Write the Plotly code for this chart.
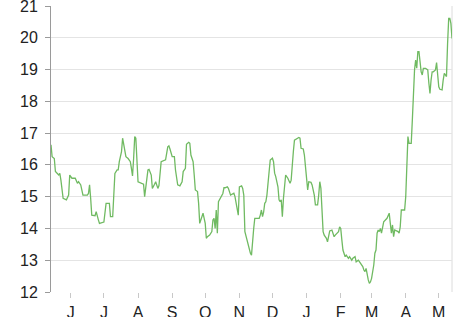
import plotly.graph_objects as go

dates = [
    "2018-05-14", "2018-05-15", "2018-05-17", "2018-05-18", "2018-05-21", "2018-05-22",
    "2018-05-23", "2018-05-24", "2018-05-25", "2018-05-28", "2018-05-30", "2018-05-31",
    "2018-06-02", "2018-06-05", "2018-06-06", "2018-06-07", "2018-06-08", "2018-06-10",
    "2018-06-12", "2018-06-16", "2018-06-17", "2018-06-18", "2018-06-19", "2018-06-20",
    "2018-06-23", "2018-06-24", "2018-06-26", "2018-06-27", "2018-07-01", "2018-07-02",
    "2018-07-03", "2018-07-06", "2018-07-07", "2018-07-09", "2018-07-10", "2018-07-11",
    "2018-07-13", "2018-07-14", "2018-07-15", "2018-07-17", "2018-07-18", "2018-07-20",
    "2018-07-21", "2018-07-23", "2018-07-25", "2018-07-26", "2018-07-27", "2018-07-28",
    "2018-07-29", "2018-07-30", "2018-08-01", "2018-08-06", "2018-08-07", "2018-08-10",
    "2018-08-11", "2018-08-13", "2018-08-14", "2018-08-16", "2018-08-17", "2018-08-19",
    "2018-08-20", "2018-08-22", "2018-08-24", "2018-08-26", "2018-08-28", "2018-08-29",
    "2018-08-30", "2018-09-01", "2018-09-03", "2018-09-04", "2018-09-06", "2018-09-08",
    "2018-09-10", "2018-09-11", "2018-09-13", "2018-09-14", "2018-09-16", "2018-09-17",
    "2018-09-18", "2018-09-20", "2018-09-21", "2018-09-22", "2018-09-24", "2018-09-25",
    "2018-09-26", "2018-09-28", "2018-09-29", "2018-10-01", "2018-10-02", "2018-10-03",
    "2018-10-05", "2018-10-07", "2018-10-08", "2018-10-09", "2018-10-10", "2018-10-11",
    "2018-10-12", "2018-10-13", "2018-10-14", "2018-10-17", "2018-10-18", "2018-10-19",
    "2018-10-21", "2018-10-22", "2018-10-24", "2018-10-27", "2018-10-28", "2018-10-30",
    "2018-10-31", "2018-11-01", "2018-11-03", "2018-11-04", "2018-11-05", "2018-11-06",
    "2018-11-08", "2018-11-09", "2018-11-11", "2018-11-12", "2018-11-13", "2018-11-14",
    "2018-11-15", "2018-11-17", "2018-11-19", "2018-11-20", "2018-11-21", "2018-11-22",
    "2018-11-23", "2018-11-24", "2018-11-25", "2018-11-26", "2018-11-27", "2018-11-28",
    "2018-11-29", "2018-12-01", "2018-12-02", "2018-12-03", "2018-12-04", "2018-12-05",
    "2018-12-06", "2018-12-07", "2018-12-08", "2018-12-09", "2018-12-10", "2018-12-11",
    "2018-12-12", "2018-12-13", "2018-12-15", "2018-12-17", "2018-12-18", "2018-12-19",
    "2018-12-20", "2018-12-21", "2018-12-23", "2018-12-25", "2018-12-26", "2018-12-27",
    "2018-12-29", "2018-12-30", "2019-01-01", "2019-01-02", "2019-01-03", "2019-01-05",
    "2019-01-06", "2019-01-08", "2019-01-09", "2019-01-11", "2019-01-12", "2019-01-13",
    "2019-01-14", "2019-01-15", "2019-01-16", "2019-01-17", "2019-01-19", "2019-01-20",
    "2019-01-21", "2019-01-22", "2019-01-24", "2019-01-25", "2019-01-26", "2019-01-27",
    "2019-01-30", "2019-01-31", "2019-02-01", "2019-02-02", "2019-02-03", "2019-02-05",
    "2019-02-06", "2019-02-08", "2019-02-09", "2019-02-11", "2019-02-12", "2019-02-14",
    "2019-02-15", "2019-02-17", "2019-02-19", "2019-02-21", "2019-02-22", "2019-02-23",
    "2019-02-24", "2019-02-25", "2019-02-26", "2019-02-27", "2019-02-28", "2019-03-01",
    "2019-03-02", "2019-03-03", "2019-03-04", "2019-03-05", "2019-03-06", "2019-03-07",
    "2019-03-08", "2019-03-09", "2019-03-10", "2019-03-11", "2019-03-12", "2019-03-15",
    "2019-03-16", "2019-03-17", "2019-03-18", "2019-03-19", "2019-03-20", "2019-03-21",
    "2019-03-22", "2019-03-25", "2019-03-26", "2019-03-27", "2019-03-28", "2019-03-31",
    "2019-04-01", "2019-04-02", "2019-04-03", "2019-04-04", "2019-04-06", "2019-04-07",
    "2019-04-08", "2019-04-09", "2019-04-10", "2019-04-11", "2019-04-12", "2019-04-13",
    "2019-04-14", "2019-04-15", "2019-04-16", "2019-04-17", "2019-04-19", "2019-04-21",
    "2019-04-22", "2019-04-23", "2019-04-24", "2019-04-25", "2019-04-26", "2019-04-28",
    "2019-04-29", "2019-04-30", "2019-05-01", "2019-05-02", "2019-05-04", "2019-05-05",
    "2019-05-06", "2019-05-07", "2019-05-08", "2019-05-09", "2019-05-10", "2019-05-11",
    "2019-05-12", "2019-05-13",
]

values = [
    16.63, 16.26, 16.20, 15.79, 15.68, 15.73,
    15.52, 15.16, 14.95, 14.90, 15.05, 15.68,
    15.58, 15.58, 15.52, 15.42, 15.47, 15.37,
    15.05, 15.05, 15.10, 15.37, 14.95, 14.42,
    14.40, 14.53, 14.27, 14.16, 14.20, 14.48,
    14.79, 14.79, 14.37, 14.37, 15.00, 15.73,
    15.84, 15.84, 16.10, 16.42, 16.84, 16.52,
    16.26, 16.20, 16.10, 15.89, 15.65, 16.20,
    16.89, 16.84, 15.47, 15.39, 15.00, 15.84,
    15.86, 15.68, 15.26, 15.39, 15.47, 15.26,
    15.35, 16.10, 16.13, 16.16, 16.57, 16.60,
    16.50, 16.26, 16.26, 15.84, 15.37, 15.34,
    15.47, 15.79, 15.89, 16.65, 16.71, 16.68,
    16.31, 16.10, 15.68, 15.21, 15.16, 14.79,
    14.16, 14.42, 14.48, 14.16, 13.69, 13.74,
    13.79, 13.90, 14.27, 14.32, 14.00, 14.58,
    13.85, 14.84, 14.90, 15.10, 15.28, 15.28,
    15.31, 15.26, 15.05, 15.11, 15.00, 14.63,
    14.42, 15.31, 15.34, 15.26, 15.05, 13.90,
    13.64, 13.43, 13.22, 13.16, 13.69, 14.00,
    14.32, 14.32, 14.32, 14.42, 14.58, 14.37,
    14.51, 14.79, 14.84, 15.05, 15.58, 15.79,
    16.15, 16.21, 16.10, 15.74, 15.63, 15.47,
    15.31, 14.90, 14.84, 14.90, 14.37, 14.95,
    15.26, 15.68, 15.58, 15.42, 15.52, 16.10,
    16.42, 16.78, 16.81, 16.86, 16.84, 16.52,
    16.50, 16.31, 15.58, 15.21, 15.47, 15.45,
    15.37, 15.05, 14.74, 14.74, 15.05, 15.47,
    15.26, 14.53, 13.90, 13.79, 13.69, 13.58,
    13.79, 13.92, 13.95, 13.85, 13.74, 13.79,
    13.90, 14.05, 14.00, 13.64, 13.32, 13.11,
    13.16, 13.06, 13.11, 13.00, 13.06, 13.11,
    12.95, 13.00, 12.90, 12.80, 12.69, 12.64,
    12.74, 12.53, 12.38, 12.27, 12.32, 12.43,
    12.59, 12.85, 13.22, 13.32, 13.85, 13.95,
    13.90, 14.00, 13.85, 14.05, 14.21, 14.32,
    14.42, 14.48, 14.16, 13.85, 14.11, 13.74,
    13.95, 13.90, 13.85, 14.05, 14.58, 14.58,
    15.00, 16.05, 16.89, 16.68, 16.68, 17.41,
    18.25, 18.99, 19.30, 19.04, 19.56, 19.56,
    19.25, 18.93, 18.83, 19.04, 19.04, 18.99,
    18.57, 18.25, 18.67, 18.93, 18.93, 18.99,
    19.22, 18.78, 18.46, 18.38, 18.36, 18.67,
    18.88, 18.83, 18.78, 19.83, 20.61, 20.61,
    20.45, 19.98,
]

month_ticks = ["2018-06-01", "2018-07-01", "2018-08-01", "2018-09-01", "2018-10-01",
               "2018-11-01", "2018-12-01", "2019-01-01", "2019-02-01", "2019-03-01",
               "2019-04-01", "2019-05-01"]
month_labels = ["J", "J", "A", "S", "O", "N", "D", "J", "F", "M", "A", "M"]
y_ticks = [12, 13, 14, 15, 16, 17, 18, 19, 20, 21]

fig = go.Figure()
fig.add_trace(go.Scatter(
    x=dates, y=values, mode="lines",
    line=dict(color="rgb(112,186,98)", width=1.3),
    hoverinfo="skip", showlegend=False,
))

font = dict(family="Liberation Sans, Arial, sans-serif", size=16, color="#222222")

fig.update_layout(
    width=466, height=317,
    margin=dict(l=51, r=14, t=6, b=25, pad=0),
    paper_bgcolor="white", plot_bgcolor="white",
    font=font,
    showlegend=False,
    xaxis=dict(
        type="date",
        range=["2018-05-14", "2019-05-13"],
        tickmode="array", tickvals=month_ticks, ticktext=month_labels,
        ticks="outside", ticklen=5, tickcolor="#c8c8c8", tickwidth=1,
        showgrid=False, showline=False, zeroline=False,
        tickfont=font, automargin=False, ticklabelstandoff=1,
        ticklabeloverflow="allow",
    ),
    yaxis=dict(
        range=[12, 21],
        tickmode="array", tickvals=y_ticks,
        ticks="outside", ticklen=5, tickcolor="#9a9a9a", tickwidth=1,
        showgrid=True, gridcolor="#e4e4e4", gridwidth=1,
        showline=True, linecolor="#9a9a9a", linewidth=1,
        zeroline=False, tickfont=font, automargin=False,
        ticklabelstandoff=4, ticklabeloverflow="allow",
    ),
    shapes=[dict(type="line", xref="paper", yref="paper", x0=1, x1=1, y0=0, y1=1,
                 line=dict(color="#dcdcdc", width=1), layer="below")],
)

fig.write_html("out.html")
